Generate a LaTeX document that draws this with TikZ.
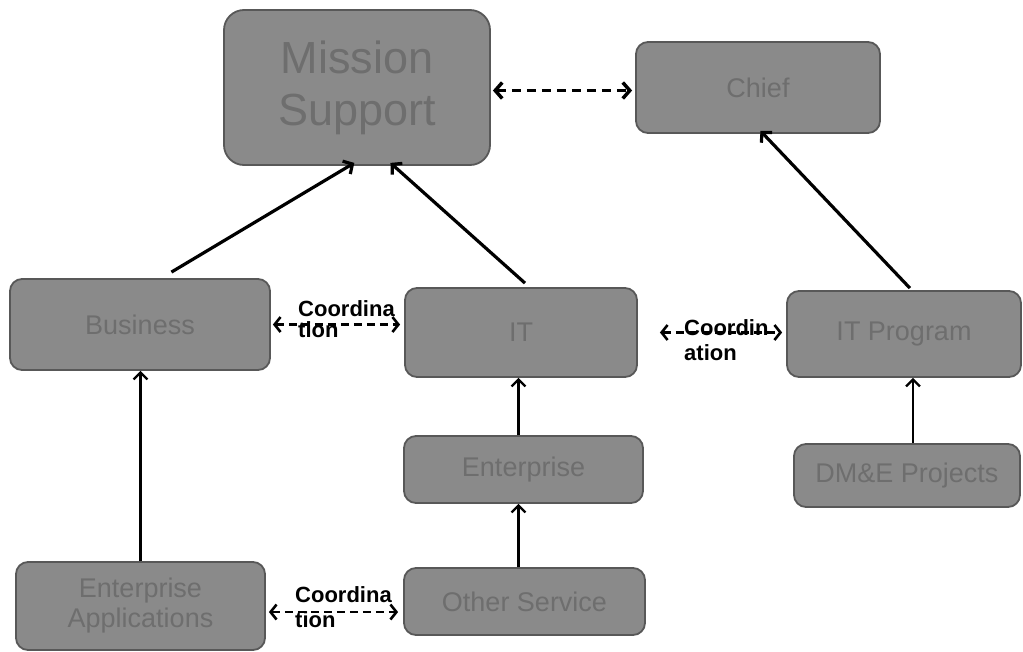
\documentclass[tikz,border=0pt]{standalone}
\usepackage{fontspec}
\setmainfont{Liberation Sans}
\usetikzlibrary{arrows.meta,calc}
\definecolor{boxfill}{RGB}{138,138,138}
\definecolor{boxline}{RGB}{88,88,88}
\definecolor{boxtext}{RGB}{110,110,110}
\begin{document}
\begin{tikzpicture}[x=1pt,y=-1pt,
  unit/.style={draw=boxline, line width=1.8pt, fill=boxfill, rounded corners=12pt,
    text=boxtext, inner sep=2pt, align=center, font=\fontsize{27}{30}\selectfont},
  link/.style={line width=3.2pt, -{Straight Barb[length=7pt,width=15pt]}},
  vlink/.style={line width=2.2pt, -{Straight Barb[length=7pt,width=14pt]}},
  peer/.style={line width=3.5pt, dash pattern=on 9pt off 6pt,
    {Straight Barb[length=7pt,width=16pt]}-{Straight Barb[length=7pt,width=16pt]}},
  coord/.style={line width=2.6pt, dash pattern=on 8pt off 5pt,
    {Straight Barb[length=6pt,width=15pt]}-{Straight Barb[length=6pt,width=15pt]}},
  note/.style={inner sep=0pt, align=left, anchor=base west, text=black}
]
\useasboundingbox (0,0) rectangle (1023,651);

% boxes
\node[unit, rounded corners=20pt, minimum width=266pt, minimum height=155pt,
  font=\fontsize{45}{52}\selectfont] (ms) at (357,87.5) {Mission\\Support};
\node[unit, minimum width=244pt, minimum height=91pt] (chief) at (758,87.5) {Chief};
\node[unit, minimum width=260pt, minimum height=91pt] (biz) at (140,324.5) {Business};
\node[unit, minimum width=232pt, minimum height=89pt] (it) at (521,332.5) {IT};
\node[unit, minimum width=234pt, minimum height=86pt] (itp) at (904,334) {IT Program};
\node[unit, minimum width=239pt, minimum height=67pt] (ent) at (523.5,469.5) {Enterprise};
\node[unit, minimum width=226pt, minimum height=63pt] (dme) at (907,475.5) {DM\&E Projects};
\node[unit, minimum width=249pt, minimum height=88pt] (ea) at (140.5,606)
  {Enterprise\\Applications};
\node[unit, minimum width=241pt, minimum height=67pt] (os) at (524.5,601.5) {Other Service};

% reporting lines
\draw[link] ($(biz.north west)!0.62!(biz.north east)+(0,-6)$)
  -- ($(ms.south west)!0.49!(ms.south east)+(0,-3)$);
\draw[link] ($(it.north west)!0.517!(it.north east)+(0,-4)$)
  -- ($(ms.south west)!0.625!(ms.south east)+(0,-3)$);
\draw[link] ($(itp.north west)!0.525!(itp.north east)+(0,-2)$)
  -- ($(chief.south west)!0.51!(chief.south east)+(0,-3)$);
\draw[vlink] (ea.north) -- (ea.north |- biz.south);
\draw[vlink] ([xshift=-5pt]ent.north) -- ([xshift=-5pt]ent.north |- it.south);
\draw[vlink] ([xshift=-6pt]os.north) -- ([xshift=-6pt]os.north |- ent.south);
\draw[vlink] ([xshift=6pt]dme.north) -- ([xshift=6pt]dme.north |- itp.south);

% peer links
\draw[peer] ([xshift=2pt,yshift=-3pt]ms.east) -- ([xshift=-3pt,yshift=-3pt]ms.east -| chief.west);
\draw[coord] ([xshift=2pt]biz.east) -- ([xshift=-4pt]biz.east -| it.west);
\node[note, font=\bfseries\fontsize{22}{21}\selectfont] (l1) at (298,337) {Coordina\\tion};
\draw[coord] ([xshift=22pt]it.east) -- ([xshift=-4pt]it.east -| itp.west);
\node[note, font=\bfseries\fontsize{22}{25}\selectfont] (l2) at (684,360) {Coordin\\ation};
\draw[coord] ([xshift=3pt,yshift=-6pt]ea.east) -- ([xshift=-5pt,yshift=-6pt]ea.east -| os.west);
\node[note, font=\bfseries\fontsize{22}{25}\selectfont] (l3) at (295,627) {Coordina\\tion};
\end{tikzpicture}
\end{document}
